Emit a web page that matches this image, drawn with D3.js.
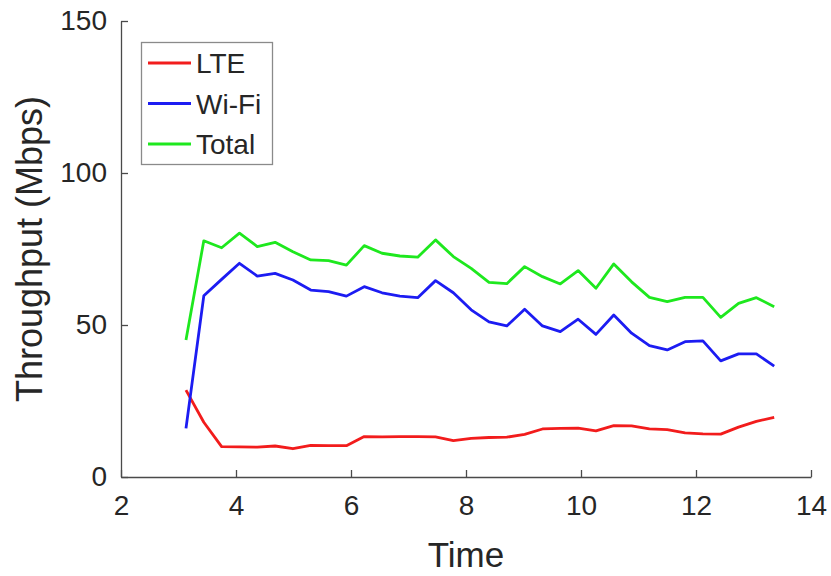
<!DOCTYPE html>
<html>
<head>
<meta charset="utf-8">
<script src="https://cdn.jsdelivr.net/npm/d3@7"></script>
<style>
  html, body { margin: 0; padding: 0; background: #fff; }
  svg text { font-family: "Liberation Sans", Arial, Helvetica, sans-serif; fill: #262626; }
</style>
</head>
<body>
<svg id="chart" width="831" height="576"></svg>
<script>
// Throughput samples over time (seconds) for each link
const time = [3.13, 3.44, 3.75, 4.06, 4.37, 4.68, 4.99, 5.30, 5.61, 5.92,
              6.23, 6.54, 6.85, 7.16, 7.47, 7.78, 8.09, 8.40, 8.71, 9.02,
              9.33, 9.64, 9.95, 10.26, 10.57, 10.88, 11.19, 11.50, 11.81, 12.12,
              12.43, 12.74, 13.05, 13.36];
const lte = [28.6, 18.0, 10.0, 9.9, 9.8, 10.2, 9.3, 10.4, 10.3, 10.3,
             13.3, 13.2, 13.3, 13.3, 13.2, 12.0, 12.7, 13.0, 13.1, 14.0,
             15.8, 16.0, 16.1, 15.2, 16.9, 16.8, 15.8, 15.6, 14.5, 14.2,
             14.1, 16.4, 18.3, 19.6];
const wifi = [16.0, 59.6, 65.0, 70.3, 66.1, 67.0, 64.8, 61.5, 61.0, 59.5,
              62.6, 60.6, 59.5, 59.0, 64.6, 60.6, 55.0, 51.0, 49.7, 55.2,
              49.7, 47.8, 51.9, 46.9, 53.3, 47.3, 43.2, 41.8, 44.5, 44.8,
              38.2, 40.5, 40.5, 36.5];
const total = [45.1, 77.7, 75.4, 80.2, 75.8, 77.2, 74.1, 71.4, 71.2, 69.7,
               76.1, 73.6, 72.7, 72.3, 78.0, 72.5, 68.6, 64.0, 63.6, 69.2,
               65.9, 63.5, 67.9, 62.1, 70.1, 64.2, 59.1, 57.7, 59.1, 59.1,
               52.5, 57.1, 59.0, 56.0];

const seriesNames = ["LTE", "Wi-Fi", "Total"];
const seriesColors = ["#f21c1c", "#1c1cf2", "#1ee81e"];
const seriesValues = [lte, wifi, total];

const xTicks = [2, 4, 6, 8, 10, 12, 14];
const yTicks = [0, 50, 100, 150];

const margin = { left: 121, right: 20, top: 21, bottom: 99 };
const W = 831, H = 576;
const svg = d3.select("#chart");

const x = d3.scaleLinear().domain([2, 14]).range([margin.left, W - margin.right]);
const y = d3.scaleLinear().domain([0, 150]).range([H - margin.bottom, margin.top]);

// Axes with inward ticks
const axisColor = "#4a4a4a";
const xAxis = svg.append("g")
  .attr("transform", `translate(0,${y(0)})`)
  .call(d3.axisBottom(x).tickValues(xTicks).tickSizeInner(-7).tickSizeOuter(0).tickPadding(18));
const yAxis = svg.append("g")
  .attr("transform", `translate(${x(2)},0)`)
  .call(d3.axisLeft(y).tickValues(yTicks).tickSizeInner(-7).tickSizeOuter(0).tickPadding(14));

[xAxis, yAxis].forEach(g => {
  g.select(".domain").attr("stroke", axisColor).attr("stroke-width", 1.3);
  g.selectAll(".tick line").attr("stroke", axisColor).attr("stroke-width", 1.3);
  g.selectAll(".tick text")
    .attr("fill", "#262626")
    .style("font-size", "28px")
    .style("font-family", "'Liberation Sans', Arial, sans-serif");
});

// Axis titles
svg.append("text")
  .attr("x", (x(2) + x(14)) / 2)
  .attr("y", 567)
  .attr("text-anchor", "middle")
  .style("font-size", "35px")
  .text("Time");

svg.append("text")
  .attr("transform", `translate(42,${(y(0) + y(150)) / 2}) rotate(-90)`)
  .attr("text-anchor", "middle")
  .style("font-size", "36px")
  .text("Throughput (Mbps)");

// Series lines
const line = d3.line()
  .x((d, i) => x(time[i]))
  .y(d => y(d));

seriesValues.forEach((vals, k) => {
  svg.append("path")
    .datum(vals)
    .attr("fill", "none")
    .attr("stroke", seriesColors[k])
    .attr("stroke-width", 2.8)
    .attr("stroke-linejoin", "round")
    .attr("d", line);
});

// Legend
const legend = svg.append("g");
legend.append("rect")
  .attr("x", 141.5).attr("y", 42.5)
  .attr("width", 131).attr("height", 122)
  .attr("fill", "#fff")
  .attr("stroke", "#8a8a8a")
  .attr("stroke-width", 1.3);
seriesNames.forEach((name, k) => {
  const ly = 63 + k * 40.5;
  legend.append("line")
    .attr("x1", 148).attr("x2", 191)
    .attr("y1", ly).attr("y2", ly)
    .attr("stroke", seriesColors[k])
    .attr("stroke-width", 2.8);
  legend.append("text")
    .attr("x", 196).attr("y", ly)
    .attr("dy", "0.36em")
    .style("font-size", "28px")
    .text(name);
});
</script>
</body>
</html>
